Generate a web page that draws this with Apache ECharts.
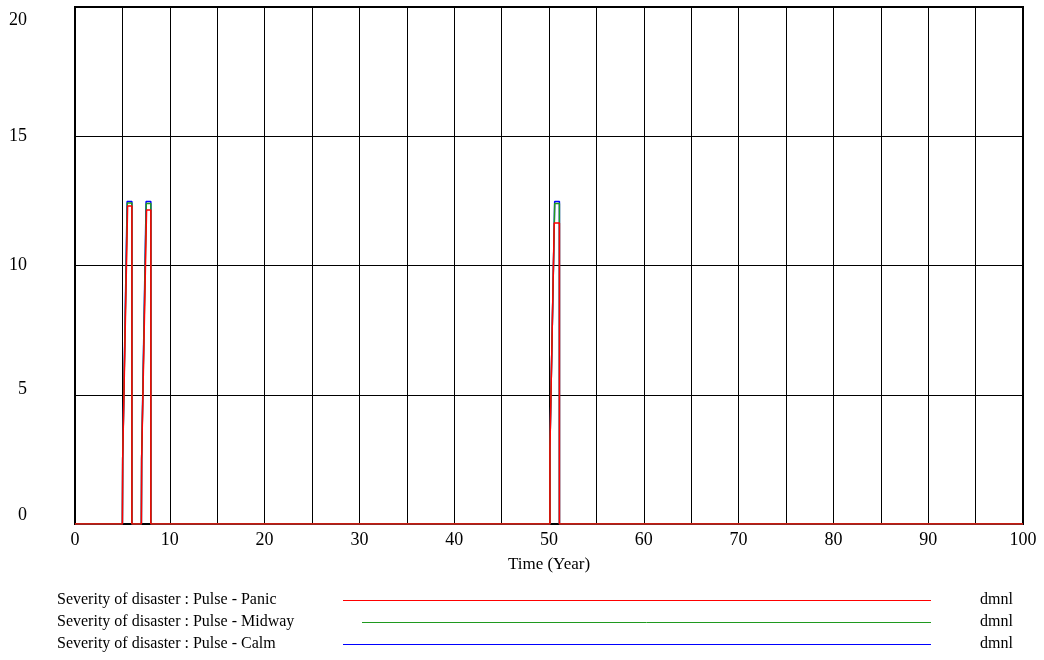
<!DOCTYPE html>
<html>
<head>
<meta charset="utf-8">
<script src="https://cdn.jsdelivr.net/npm/echarts@6/dist/echarts.min.js"></script>
<style>
  html, body { margin: 0; padding: 0; background: #fff; }
  #chart { width: 1044px; height: 660px; }
</style>
</head>
<body>
<div id="chart"></div>
<script>
// Simulated severity of disaster (dmnl) for three response scenarios.
const seriesNames = [
  'Severity of disaster : Pulse - Calm',
  'Severity of disaster : Pulse - Midway',
  'Severity of disaster : Pulse - Panic'
];
const unitLabel = 'dmnl';

// Time (years) and value pairs for each run
const calmTime  = [0, 5, 5.03, 5.5, 6.0, 6.0, 7.0, 7.03, 7.5, 8.0, 8.0, 50.1, 50.1, 50.6, 51.1, 51.1, 100];
const calmVal   = [0, 0, 2.5, 12.48, 12.48, 0, 0, 2.5, 12.48, 12.48, 0, 0, 3.0, 12.48, 12.48, 0, 0];

const midTime   = [0, 5, 5.03, 5.52, 6.0, 6.0, 7.0, 7.03, 7.52, 8.0, 8.0, 50.1, 50.1, 50.6, 51.1, 51.1, 100];
const midVal    = [0, 0, 2.5, 12.42, 12.42, 0, 0, 2.5, 12.4, 12.4, 0, 0, 3.0, 12.4, 12.4, 0, 0];

const panicTime = [0, 5, 5.03, 5.55, 6.0, 6.0, 7.0, 7.03, 7.55, 8.0, 8.0, 50.1, 50.1, 50.55, 51.1, 51.1, 100];
const panicVal  = [0, 0, 2.5, 12.3, 12.3, 0, 0, 2.5, 12.15, 12.15, 0, 0, 2.9, 11.64, 11.64, 0, 0];

const yTicks = [0, 5, 10, 15, 20];
const xTicks = [0, 10, 20, 30, 40, 50, 60, 70, 80, 90, 100];

const colors = ['#0000ff', '#1f9a1f', '#ff0000'];
const FONT = 'Liberation Serif';
const AXIS_FS = 18;
const LEGEND_FS = 16;

function pairs(t, v) { return t.map((x, i) => [x, v[i]]); }

const chart = echarts.init(document.getElementById('chart'), null, { renderer: 'canvas' });

const legendRows = [
  { name: seriesNames[2], color: colors[2], x1: 343 },
  { name: seriesNames[1], color: colors[1], x1: 362 },
  { name: seriesNames[0], color: colors[0], x1: 343 }
];
const graphic = [];
legendRows.forEach((r, i) => {
  const y = 600 + i * 22;
  graphic.push({ type: 'text', left: 57, top: y - 8,
    style: { text: r.name, fill: '#000', font: LEGEND_FS + 'px "' + FONT + '"' } });
  graphic.push({ type: 'line', shape: { x1: r.x1, y1: y + 0.5, x2: 931, y2: y + 0.5 },
    style: { stroke: r.color, lineWidth: 1 } });
  graphic.push({ type: 'text', left: 980, top: y - 8,
    style: { text: unitLabel, fill: '#000', font: LEGEND_FS + 'px "' + FONT + '"' } });
});

const labelStyle = { fontFamily: FONT, fontSize: AXIS_FS, color: '#000' };

chart.setOption({
  animation: false,
  backgroundColor: '#fff',
  grid: { left: 75, right: 21, top: 7, bottom: 136, show: true, borderColor: '#000', borderWidth: 2, containLabel: false },
  xAxis: {
    type: 'value', min: 0, max: 100, interval: 5,
    name: 'Time (Year)', nameLocation: 'middle', nameGap: 32,
    nameTextStyle: { fontFamily: FONT, fontSize: 17, color: '#000' },
    axisLine: { show: true, lineStyle: { color: '#000', width: 2 } },
    axisTick: { show: false },
    axisLabel: Object.assign({ margin: 7,
      formatter: v => (xTicks.indexOf(v) >= 0 ? String(v) : '') }, labelStyle),
    splitLine: { show: true, lineStyle: { color: '#000', width: 1 } }
  },
  yAxis: {
    type: 'value', min: 0, max: 20, interval: 5,
    axisLine: { show: true, lineStyle: { color: '#000', width: 2 } },
    axisTick: { show: false },
    axisLabel: Object.assign({ margin: 48,
      formatter: v => {
        if (yTicks.indexOf(v) < 0) return '';
        if (v === 20) return '{top|' + v + '}';
        if (v === 0) return '{bot|' + v + '}';
        if (v === 5) return '{five|' + v + '}';
        return String(v);
      },
      rich: {
        top: Object.assign({ padding: [26, 0, 0, 0] }, labelStyle),
        bot: Object.assign({ padding: [0, 0, 18, 0] }, labelStyle),
        five: Object.assign({ padding: [0, 0, 10, 0] }, labelStyle)
      }
    }, labelStyle),
    splitLine: { show: true, lineStyle: { color: '#000', width: 1 } }
  },
  graphic: graphic,
  series: [
    { name: seriesNames[0], type: 'line', data: pairs(calmTime, calmVal), showSymbol: false,
      lineStyle: { color: colors[0], width: 1.5 }, z: 3 },
    { name: seriesNames[1], type: 'line', data: pairs(midTime, midVal), showSymbol: false,
      lineStyle: { color: colors[1], width: 1.5 }, z: 4 },
    { name: seriesNames[2], type: 'line', data: pairs(panicTime, panicVal), showSymbol: false,
      lineStyle: { color: colors[2], width: 1.5 }, z: 5 }
  ]
});
</script>
</body>
</html>
